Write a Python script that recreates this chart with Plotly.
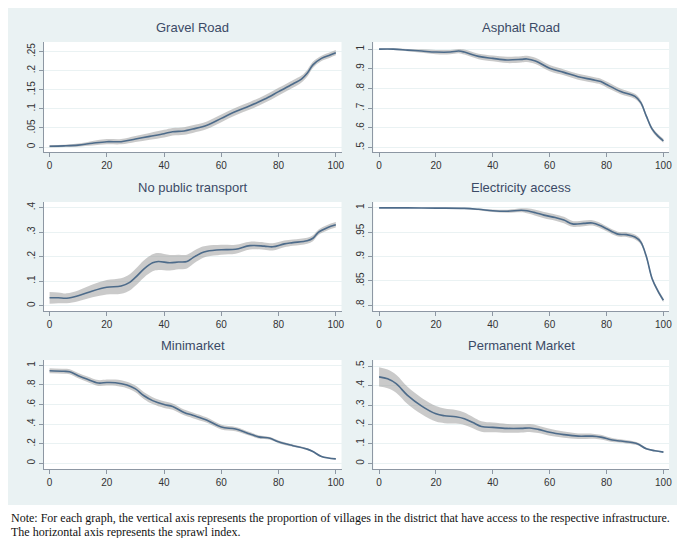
import plotly.graph_objects as go

W, H = 685, 538

titles = ["Gravel Road", "Asphalt Road", "No public transport",
          "Electricity access", "Minimarket", "Permanent Market"]

x_ticks = [0, 20, 40, 60, 80, 100]

# Gravel Road
gravel_x = [0, 5, 10, 15, 20, 25, 30, 35, 40, 43, 47, 50, 55, 60, 65, 70, 75, 80, 85, 88, 90, 92, 95, 98, 100]
gravel_y = [0.002, 0.003, 0.005, 0.010, 0.014, 0.014, 0.021, 0.028, 0.035, 0.040, 0.042, 0.047, 0.057, 0.075,
            0.093, 0.108, 0.125, 0.145, 0.165, 0.178, 0.193, 0.215, 0.232, 0.241, 0.247]
gravel_ci = [0.003, 0.003, 0.004, 0.006, 0.007, 0.007, 0.008, 0.009, 0.010, 0.010, 0.010, 0.010, 0.010, 0.010,
             0.010, 0.010, 0.010, 0.010, 0.010, 0.009, 0.009, 0.008, 0.007, 0.007, 0.007]
gravel_ticks = [0, 0.05, 0.1, 0.15, 0.2, 0.25]
gravel_labels = ["0", ".05", ".1", ".15", ".2", ".25"]

# Asphalt Road
asphalt_x = [0, 5, 10, 15, 20, 25, 28, 30, 35, 40, 45, 50, 52, 55, 60, 65, 70, 75, 78, 80, 85, 90, 92, 94, 96, 98, 100]
asphalt_y = [1.0, 1.0, 0.995, 0.99, 0.985, 0.985, 0.99, 0.985, 0.963, 0.953, 0.945, 0.948, 0.95, 0.94, 0.903,
             0.882, 0.86, 0.845, 0.835, 0.82, 0.785, 0.76, 0.73, 0.66, 0.595, 0.56, 0.535]
asphalt_ci = [0.003, 0.004, 0.006, 0.009, 0.011, 0.011, 0.011, 0.013, 0.014, 0.015, 0.016, 0.016, 0.016, 0.016,
              0.016, 0.015, 0.015, 0.015, 0.015, 0.015, 0.014, 0.013, 0.012, 0.011, 0.010, 0.010, 0.010]
asphalt_ticks = [0.5, 0.6, 0.7, 0.8, 0.9, 1.0]
asphalt_labels = [".5", ".6", ".7", ".8", ".9", "1"]

# No public transport
transport_x = [0, 3, 6, 10, 15, 20, 25, 28, 30, 33, 36, 38, 42, 45, 48, 50, 53, 55, 60, 65, 70, 75, 78, 82, 85,
               90, 92, 94, 97, 100]
transport_y = [0.032, 0.032, 0.030, 0.040, 0.060, 0.075, 0.080, 0.095, 0.115, 0.150, 0.175, 0.180, 0.175, 0.178,
               0.180, 0.195, 0.215, 0.222, 0.228, 0.230, 0.245, 0.243, 0.240, 0.252, 0.257, 0.265, 0.275, 0.300,
               0.318, 0.330]
transport_ci = [0.024, 0.022, 0.020, 0.022, 0.026, 0.030, 0.032, 0.033, 0.034, 0.035, 0.035, 0.035, 0.032, 0.030,
                0.028, 0.026, 0.024, 0.022, 0.020, 0.018, 0.016, 0.015, 0.015, 0.014, 0.013, 0.012, 0.012, 0.011,
                0.011, 0.011]
transport_ticks = [0, 0.1, 0.2, 0.3, 0.4]
transport_labels = ["0", ".1", ".2", ".3", ".4"]

# Electricity access
elec_x = [0, 10, 20, 30, 35, 40, 45, 50, 52, 55, 58, 62, 65, 68, 72, 75, 78, 80, 84, 87, 90, 92, 94, 96, 98, 100]
elec_y = [1.0, 1.0, 0.9995, 0.999, 0.997, 0.994, 0.993, 0.995, 0.994, 0.99, 0.985, 0.98, 0.975, 0.967, 0.968,
          0.969, 0.963, 0.957, 0.946, 0.945, 0.94, 0.93, 0.90, 0.855, 0.83, 0.81]
elec_ci = [0.0003, 0.0004, 0.0006, 0.0012, 0.0018, 0.0025, 0.003, 0.004, 0.005, 0.006, 0.0065, 0.0065, 0.0065,
           0.006, 0.006, 0.0055, 0.0055, 0.005, 0.005, 0.005, 0.005, 0.005, 0.0045, 0.004, 0.004, 0.004]
elec_ticks = [0.8, 0.85, 0.9, 0.95, 1.0]
elec_labels = [".8", ".85", ".9", ".95", "1"]

# Minimarket
mini_x = [0, 5, 7, 10, 13, 17, 20, 23, 27, 30, 33, 36, 40, 43, 47, 50, 55, 60, 65, 70, 73, 77, 80, 85, 90, 92,
          95, 100]
mini_y = [0.945, 0.94, 0.935, 0.895, 0.86, 0.82, 0.825, 0.823, 0.80, 0.76, 0.69, 0.64, 0.60, 0.58, 0.52, 0.49,
          0.44, 0.37, 0.35, 0.30, 0.27, 0.255, 0.22, 0.18, 0.145, 0.12, 0.07, 0.045]
mini_ci = [0.025, 0.025, 0.026, 0.027, 0.028, 0.030, 0.031, 0.032, 0.033, 0.034, 0.035, 0.035, 0.034, 0.032,
           0.030, 0.029, 0.027, 0.025, 0.022, 0.019, 0.017, 0.015, 0.014, 0.012, 0.010, 0.009, 0.008, 0.007]
mini_ticks = [0, 0.2, 0.4, 0.6, 0.8, 1.0]
mini_labels = ["0", ".2", ".4", ".6", ".8", "1"]

# Permanent Market
perm_x = [0, 3, 6, 10, 15, 20, 23, 27, 30, 33, 36, 40, 45, 50, 53, 56, 60, 65, 70, 75, 78, 82, 85, 89, 91, 94,
          97, 100]
perm_y = [0.445, 0.435, 0.41, 0.35, 0.295, 0.255, 0.245, 0.24, 0.23, 0.21, 0.19, 0.185, 0.18, 0.18, 0.182, 0.175,
          0.16, 0.148, 0.14, 0.14, 0.135, 0.12, 0.115, 0.107, 0.10, 0.075, 0.065, 0.058]
perm_ci = [0.050, 0.048, 0.046, 0.044, 0.042, 0.040, 0.038, 0.035, 0.032, 0.029, 0.027, 0.025, 0.023, 0.021,
           0.020, 0.019, 0.018, 0.016, 0.014, 0.013, 0.012, 0.010, 0.009, 0.008, 0.007, 0.005, 0.004, 0.004]
perm_ticks = [0, 0.1, 0.2, 0.3, 0.4, 0.5]
perm_labels = ["0", ".1", ".2", ".3", ".4", ".5"]

note_lines = ["Note: For each graph, the vertical axis represents the proportion of villages in the district "
              "that have access to the respective infrastructure.",
              "The horizontal axis represents the sprawl index."]

series = [
    (gravel_x, gravel_y, gravel_ci, gravel_ticks, gravel_labels, [-0.013, 0.275]),
    (asphalt_x, asphalt_y, asphalt_ci, asphalt_ticks, asphalt_labels, [0.478, 1.036]),
    (transport_x, transport_y, transport_ci, transport_ticks, transport_labels, [-0.022, 0.423]),
    (elec_x, elec_y, elec_ci, elec_ticks, elec_labels, [0.788, 1.012]),
    (mini_x, mini_y, mini_ci, mini_ticks, mini_labels, [-0.058, 1.055]),
    (perm_x, perm_y, perm_ci, perm_ticks, perm_labels, [-0.029, 0.532]),
]

# layout geometry (pixels)
cols = [(36, 335), (367, 664)]
rows = [(34, 144), (194, 303), (352, 461)]

BG = "#eaf2f3"
LINE = "#4d6b8a"
BAND = "rgba(150,150,150,0.5)"
AXC = "#8d97a3"

fig = go.Figure()
layout = dict(
    width=W, height=H,
    margin=dict(l=0, r=0, t=0, b=0),
    paper_bgcolor=BG, plot_bgcolor="white",
    showlegend=False,
    font=dict(family="Liberation Sans, Arial, sans-serif", color="#333333"),
)
annotations = []
shapes = [dict(type="rect", xref="paper", yref="paper", x0=0, x1=1, y0=0, y1=1 - 497 / H,
               fillcolor="white", line=dict(width=0), layer="below")]

for i, (xs, ys, ci, tv, tl, yr) in enumerate(series):
    r, c = divmod(i, 2)
    n = i + 1
    xa = "x" if n == 1 else f"x{n}"
    ya = "y" if n == 1 else f"y{n}"
    lo = [a - b for a, b in zip(ys, ci)]
    hi = [a + b for a, b in zip(ys, ci)]
    fig.add_trace(go.Scatter(x=xs, y=lo, mode="lines", line=dict(width=0, shape="spline"),
                             xaxis=xa, yaxis=ya, hoverinfo="skip"))
    fig.add_trace(go.Scatter(x=xs, y=hi, mode="lines", line=dict(width=0, shape="spline"),
                             fill="tonexty", fillcolor=BAND, xaxis=xa, yaxis=ya, hoverinfo="skip"))
    fig.add_trace(go.Scatter(x=xs, y=ys, mode="lines", line=dict(color=LINE, width=1.6, shape="spline"),
                             xaxis=xa, yaxis=ya))
    x0, x1 = cols[c]
    t0, t1 = rows[r]
    xkey = "xaxis" if n == 1 else f"xaxis{n}"
    ykey = "yaxis" if n == 1 else f"yaxis{n}"
    layout[xkey] = dict(domain=[x0 / W, x1 / W], anchor=ya, range=[-2, 102],
                        tickvals=x_ticks, ticktext=[str(v) for v in x_ticks],
                        showgrid=False, zeroline=False, showline=True, linecolor=AXC, linewidth=1,
                        ticks="outside", ticklen=4, tickcolor=AXC, tickfont=dict(size=10, color="#333"))
    layout[ykey] = dict(domain=[1 - t1 / H, 1 - t0 / H], anchor=xa, range=yr,
                        tickvals=tv, ticktext=tl, tickangle=-90,
                        showgrid=True, gridcolor="#eaf2f3", gridwidth=1, zeroline=False,
                        showline=True, linecolor=AXC, linewidth=1,
                        ticks="outside", ticklen=4, tickcolor=AXC, tickfont=dict(size=10, color="#333"))
    annotations.append(dict(text=titles[i], xref="paper", yref="paper",
                            x=(x0 + x1) / 2 / W, y=1 - (t0 - 5) / H, xanchor="center", yanchor="bottom",
                            showarrow=False, font=dict(size=13, color="#3b4a66")))

for k, (line_text, cy) in enumerate(zip(note_lines, [510, 524])):
    annotations.append(dict(text=line_text, xref="paper", yref="paper", x=2 / W, y=1 - cy / H,
                            xanchor="left", yanchor="middle", align="left", showarrow=False, borderpad=0,
                            font=dict(family="Liberation Serif, Times New Roman, serif", size=12, color="#111")))

layout["annotations"] = annotations
layout["shapes"] = shapes
fig.update_layout(**layout)
fig.write_html("out.html")
